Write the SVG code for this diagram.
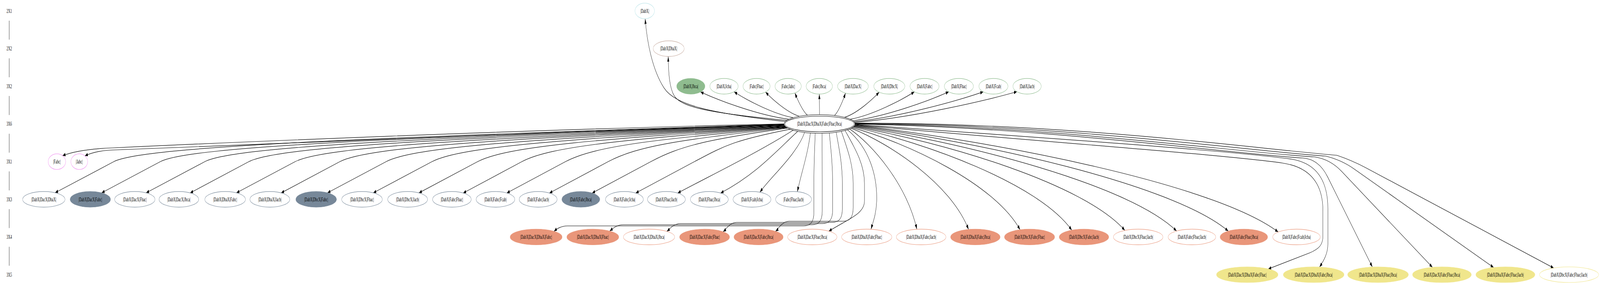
<svg xmlns="http://www.w3.org/2000/svg" width="7085" height="733" viewBox="0 0 7085 733" preserveAspectRatio="none">
<defs>
<style>
:root{width:100vw;height:100vh}
text{font-family:"Liberation Serif","Times New Roman",serif;font-size:14px;text-anchor:middle;fill:#000}
.e{fill:none;stroke:#000;stroke-width:1.2}
.a{marker-end:url(#ah)}
ellipse{stroke-width:1.1}
.c0{fill:#fff;stroke:#b0e0e6}
.c1{fill:#fff;stroke:#c4a89c}
.c2{fill:#fff;stroke:#8fbc8f}
.c2f{fill:#8fbc8f;stroke:#8fbc8f}
.c3{fill:#fff;stroke:#000}
.c3o{fill:none;stroke:#000}
.c4{fill:#fff;stroke:#ee82ee}
.c5{fill:#fff;stroke:#778899}
.c5f{fill:#778899;stroke:#778899}
.c6{fill:#fff;stroke:#e9967a}
.c6f{fill:#e9967a;stroke:#e9967a}
.c7{fill:#fff;stroke:#f0e68c}
.c7f{fill:#f0e68c;stroke:#f0e68c}
</style>
<marker id="ah" viewBox="0 0 13 9" refX="13" refY="4.5" markerWidth="13" markerHeight="9" markerUnits="userSpaceOnUse" orient="auto"><path d="M0,0 L13,4.5 L0,9 Z" fill="#000"/></marker>
</defs>
<rect width="7085" height="733" fill="#fff"/>
<g id="connectors">
<path class="e" d="M41,53 L41,101.6"/>
<path class="e" d="M41,149.6 L41,198.1"/>
<path class="e" d="M41,246.1 L41,294.7"/>
<path class="e" d="M41,342.7 L41,391.3"/>
<path class="e" d="M41,439.3 L41,487.9"/>
<path class="e" d="M41,535.9 L41,584.4"/>
<path class="e" d="M41,632.4 L41,681"/>
<path class="e a" d="M3477.4,311.5 C3150,290 2990,270 2940,225 C2890,180 2865,110 2857,48.5"/>
<path class="e a" d="M3483.4,308.7 C3200,292 3020,280 2985,245 C2965,225 2960,190 2959,145"/>
<path class="e a" d="M3493,305.7 C3356.1,295.2 3180.2,256.7 3102,235.7"/>
<path class="e a" d="M3512.3,301.6 C3420.8,291.7 3303.3,255.3 3251,235.5"/>
<path class="e a" d="M3538.9,298 C3486.8,288.7 3419.8,254.6 3390,236"/>
<path class="e a" d="M3575.3,295.1 C3556,286.6 3531.1,255.3 3520,238.2"/>
<path class="e a" d="M3629,293.7 C3629,276 3628.5,258 3628,241.1"/>
<path class="e a" d="M3695.3,295.9 C3712.3,287.3 3734.3,255.8 3744,238.6"/>
<path class="e a" d="M3740,300.7 C3793.6,291 3862.4,255.6 3893,236.2"/>
<path class="e a" d="M3765,305.7 C3864.4,295.2 3992.2,256.5 4049,235.4"/>
<path class="e a" d="M3776.5,309.5 C3925.1,298.4 4116.1,257.6 4201,235.4"/>
<path class="e a" d="M3781.3,311.9 C3981.7,300.4 4239.5,258.3 4354,235.4"/>
<path class="e a" d="M3784.1,313.9 C4035.7,302.1 4359.2,258.7 4503,235"/>
<path class="e a" d="M3472,317.7 C2400,330 900,368 500,379 C400,381 330,387 277,399"/>
<path class="e a" d="M3472,318.2 C2450,338 950,376 520,384 C450,385 410,390 376,399.5"/>
<path class="e a" d="M3472.1,318.5 C1691.2,352 634,374.3 504,414.3 L244,494"/>
<path class="e a" d="M3472.4,319.4 C1815,352.6 840,374.3 710,414.3 L450,494.3"/>
<path class="e a" d="M3472.9,320.2 C1933.4,353.1 1037,374.3 907,414.3 L647,494.3"/>
<path class="e a" d="M3473.5,321 C2050.6,353.7 1232,374.3 1102,414.3 L842,494.5"/>
<path class="e a" d="M3474.4,321.9 C2173,354.2 1437,374.3 1307,414.3 L1047,494.3"/>
<path class="e a" d="M3475.4,322.7 C2293.2,354.8 1635,374.3 1505,414.3 L1245,494.4"/>
<path class="e a" d="M3476.7,323.5 C2416.7,355.3 1840,374.3 1710,414.3 L1450,494.3"/>
<path class="e a" d="M3478.1,324.3 C2539,355.8 2043,374.3 1913,414.3 L1653,494.3"/>
<path class="e a" d="M3479.7,325.1 C2660.9,356.3 2245,374.3 2115,414.3 L1855,494.4"/>
<path class="e a" d="M3481.5,325.9 C2779.2,356.8 2441,374.3 2311,414.3 L2051,494.7"/>
<path class="e a" d="M3483.4,326.7 C2895.8,357.4 2634,374.3 2504,414.3 L2244,494.7"/>
<path class="e a" d="M3485.6,327.5 C3010,357.9 2823,374.3 2693,414.3 L2433,494.8"/>
<path class="e a" d="M3487.9,328.2 C3124.4,358.3 3012,374.3 2882,414.3 L2622,494.8"/>
<path class="e a" d="M3498.8,331.1 C3244.5,360.2 3205,374.3 3075,414.3 L2815,494.8"/>
<path class="e a" d="M3512.3,333.8 C3359,390 3157,446.8 3001,494.8"/>
<path class="e a" d="M3532.3,336.6 C3430,392 3347,446.8 3191,494.8"/>
<path class="e a" d="M3562.7,339.5 C3530,395 3410,455 3365,492.7"/>
<path class="e a" d="M3588.4,340.9 C3578,395 3545,450 3531,491.4"/>
<path class="e a" d="M3609.9,341.5 C3607,386.5 3604,420 3604,470 L3604,544 C3604,569 3589,579 3559,579 L2513,579 C2483,579 2465,586.9 2453,592.9"/>
<path class="e a" d="M3640,341.6 C3640.5,386.6 3641,420 3641,470 L3641,541 C3641,566 3626,576 3596,576 L2760,576 C2730,576 2712,586.2 2700,592.2"/>
<path class="e a" d="M3672.3,340.8 C3679.7,385.8 3687,420 3687,470 L3687,538 C3687,563 3672,573 3642,573 L3013,573 C2983,573 2965,587 2953,593"/>
<path class="e a" d="M3702.7,338.9 C3716.4,383.9 3730,420 3730,470 L3730,535 C3730,560 3715,570 3685,570 L3262,570 C3232,570 3214,588 3202,594"/>
<path class="e a" d="M3725.7,336.6 C3751.9,381.6 3778,420 3778,470 L3778,532 C3778,557 3763,567 3733,567 L3494,567 C3464,567 3446,586.9 3434,592.9"/>
<path class="e a" d="M3741.9,334.4 C3785,379.4 3828,420 3828,470 L3828,515 C3828,548 3760,560 3670,592.6"/>
<path class="e a" d="M3752.7,332.5 C3850,380 3885,450 3882,515 C3880,550 3865,570 3857,587.7"/>
<path class="e a" d="M3762.1,330.4 C3860.4,369 4015.3,471.9 4060,587.7"/>
<path class="e a" d="M3768.9,328.6 C3940.5,367.5 4211,471.4 4289,588.2"/>
<path class="e a" d="M3773.5,327.1 C4018.9,366.4 4405.5,471.1 4517,588.9"/>
<path class="e a" d="M3777.4,325.5 C4097,365.2 4600.7,471 4746,590"/>
<path class="e a" d="M3779.9,324.3 C4176.3,364.2 4800.8,470.7 4981,590.5"/>
<path class="e a" d="M3782,323.1 C4253.2,363.4 4995.8,471 5210,592.1"/>
<path class="e a" d="M3783.6,321.9 C4329.9,362.5 5190.7,470.6 5439,592.3"/>
<path class="e a" d="M3784.8,320.6 C4403.6,361.7 5378.7,471.3 5660,594.6"/>
<path class="e a" d="M3785.4,319.8 C4500,358 5400,395 5680,418 C5815,430 5858,480 5858,540 L5858,605 C5858,628 5840,638 5800,648 L5616,689.4"/>
<path class="e a" d="M3785.8,319 C4550,350 5450,386 5720,408 C5845,420 5880,475 5880,535 L5880,625 C5880,650 5862,668 5843,684.4"/>
<path class="e a" d="M3786,318.1 C4600,325 5450,394 5770,405 Q5840,408 5879,453.5 L6077,684.3"/>
<path class="e a" d="M3786,317.3 C4650,322 5500,392 5820,402 Q5890,408 5941,439.3 L6343,685.1"/>
<path class="e a" d="M3785.8,316.4 C4700,318 5550,388 5870,400 Q5940,410 5995.5,432.7 L6614,685.6"/>
<path class="e a" d="M3785.4,315.6 C4750,314 5600,384 5920,398 Q5990,412 6047.3,429.7 L6880,686.9"/>
</g>
<g id="labels">
<g id="lab_2X1"><text x="41" y="32.8">2X1</text></g>
<g id="lab_2X2"><text x="41" y="129.4">2X2</text></g>
<g id="lab_3X2"><text x="41" y="225.9">3X2</text></g>
<g id="lab_3X6"><text x="41" y="322.5">3X6</text></g>
<g id="lab_3X1"><text x="41" y="419.1">3X1</text></g>
<g id="lab_3X3"><text x="41" y="515.7">3X3</text></g>
<g id="lab_3X4"><text x="41" y="612.2">3X4</text></g>
<g id="lab_3X5"><text x="41" y="708.8">3X5</text></g>
</g>
<g id="n_r0_1"><ellipse class="c0" cx="2855" cy="28" rx="43.1" ry="20"/><text x="2855" y="32.8">|DabX|</text></g>
<g id="n_r1_1"><ellipse class="c1" cx="2961" cy="124.6" rx="68.8" ry="20"/><text x="2961" y="129.4">|DabX|DbaX|</text></g>
<g id="n_r2_1"><ellipse class="c2f" cx="3059" cy="221.1" rx="62.7" ry="20"/><text x="3059" y="225.9">|DabX|Jbca|</text></g>
<g id="n_r2_2"><ellipse class="c2" cx="3206" cy="221.1" rx="62.7" ry="20"/><text x="3206" y="225.9">|DabX|Jcba|</text></g>
<g id="n_r2_3"><ellipse class="c2" cx="3350" cy="221.1" rx="60" ry="20"/><text x="3350" y="225.9">|Fabc|Fbac|</text></g>
<g id="n_r2_4"><ellipse class="c2" cx="3490" cy="221.1" rx="58.3" ry="20"/><text x="3490" y="225.9">|Fabc|Jabc|</text></g>
<g id="n_r2_5"><ellipse class="c2" cx="3628" cy="221.1" rx="58.3" ry="20"/><text x="3628" y="225.9">|Fabc|Jbca|</text></g>
<g id="n_r2_6"><ellipse class="c2" cx="3777" cy="221.1" rx="68.2" ry="20"/><text x="3777" y="225.9">|DabX|DacX|</text></g>
<g id="n_r2_7"><ellipse class="c2" cx="3938" cy="221.1" rx="68.8" ry="20"/><text x="3938" y="225.9">|DabX|DbcX|</text></g>
<g id="n_r2_8"><ellipse class="c2" cx="4094" cy="221.1" rx="64.4" ry="20"/><text x="4094" y="225.9">|DabX|Fabc|</text></g>
<g id="n_r2_9"><ellipse class="c2" cx="4246" cy="221.1" rx="64.4" ry="20"/><text x="4246" y="225.9">|DabX|Fbac|</text></g>
<g id="n_r2_10"><ellipse class="c2" cx="4399" cy="221.1" rx="64.4" ry="20"/><text x="4399" y="225.9">|DabX|Fcab|</text></g>
<g id="n_r2_11"><ellipse class="c2" cx="4548" cy="221.1" rx="62.7" ry="20"/><text x="4548" y="225.9">|DabX|Jacb|</text></g>
<g id="n_center"><ellipse class="c3" cx="3629" cy="317.7" rx="153" ry="20"/><ellipse class="c3o" cx="3629" cy="317.7" rx="157" ry="24"/><text x="3629" y="322.5">|DabX|DacX|DbaX|Fabc|Fbac|Jbca|</text></g>
<g id="n_r4_1"><ellipse class="c4" cx="252" cy="414.3" rx="38.8" ry="20"/><text x="252" y="419.1">|Fabc|</text></g>
<g id="n_r4_2"><ellipse class="c4" cx="351" cy="414.3" rx="37.1" ry="20"/><text x="351" y="419.1">|Jabc|</text></g>
<g id="n_r5_1"><ellipse class="c5" cx="194" cy="510.9" rx="93.8" ry="20"/><text x="194" y="515.7">|DabX|DacX|DbaX|</text></g>
<g id="n_r5_2"><ellipse class="c5f" cx="400" cy="510.9" rx="89.4" ry="20"/><text x="400" y="515.7">|DabX|DacX|Fabc|</text></g>
<g id="n_r5_3"><ellipse class="c5" cx="597" cy="510.9" rx="89.4" ry="20"/><text x="597" y="515.7">|DabX|DacX|Fbac|</text></g>
<g id="n_r5_4"><ellipse class="c5" cx="792" cy="510.9" rx="87.8" ry="20"/><text x="792" y="515.7">|DabX|DacX|Jbca|</text></g>
<g id="n_r5_5"><ellipse class="c5" cx="997" cy="510.9" rx="90" ry="20"/><text x="997" y="515.7">|DabX|DbaX|Fabc|</text></g>
<g id="n_r5_6"><ellipse class="c5" cx="1195" cy="510.9" rx="88.3" ry="20"/><text x="1195" y="515.7">|DabX|DbaX|Jacb|</text></g>
<g id="n_r5_7"><ellipse class="c5f" cx="1400" cy="510.9" rx="90" ry="20"/><text x="1400" y="515.7">|DabX|DbcX|Fabc|</text></g>
<g id="n_r5_8"><ellipse class="c5" cx="1603" cy="510.9" rx="90" ry="20"/><text x="1603" y="515.7">|DabX|DbcX|Fbac|</text></g>
<g id="n_r5_9"><ellipse class="c5" cx="1805" cy="510.9" rx="88.3" ry="20"/><text x="1805" y="515.7">|DabX|DbcX|Jacb|</text></g>
<g id="n_r5_10"><ellipse class="c5" cx="2001" cy="510.9" rx="85.6" ry="20"/><text x="2001" y="515.7">|DabX|Fabc|Fbac|</text></g>
<g id="n_r5_11"><ellipse class="c5" cx="2194" cy="510.9" rx="85.6" ry="20"/><text x="2194" y="515.7">|DabX|Fabc|Fcab|</text></g>
<g id="n_r5_12"><ellipse class="c5" cx="2383" cy="510.9" rx="83.9" ry="20"/><text x="2383" y="515.7">|DabX|Fabc|Jacb|</text></g>
<g id="n_r5_13"><ellipse class="c5f" cx="2572" cy="510.9" rx="83.9" ry="20"/><text x="2572" y="515.7">|DabX|Fabc|Jbca|</text></g>
<g id="n_r5_14"><ellipse class="c5" cx="2765" cy="510.9" rx="83.9" ry="20"/><text x="2765" y="515.7">|DabX|Fabc|Jcba|</text></g>
<g id="n_r5_15"><ellipse class="c5" cx="2951" cy="510.9" rx="83.9" ry="20"/><text x="2951" y="515.7">|DabX|Fbac|Jacb|</text></g>
<g id="n_r5_16"><ellipse class="c5" cx="3141" cy="510.9" rx="83.9" ry="20"/><text x="3141" y="515.7">|DabX|Fbac|Jbca|</text></g>
<g id="n_r5_17"><ellipse class="c5" cx="3330" cy="510.9" rx="83.9" ry="20"/><text x="3330" y="515.7">|DabX|Fcab|Jcba|</text></g>
<g id="n_r5_18"><ellipse class="c5" cx="3514" cy="510.9" rx="79.6" ry="20"/><text x="3514" y="515.7">|Fabc|Fbac|Jacb|</text></g>
<g id="n_r6_1"><ellipse class="c6f" cx="2374" cy="607.4" rx="115.1" ry="20"/><text x="2374" y="612.2">|DabX|DacX|DbaX|Fabc|</text></g>
<g id="n_r6_2"><ellipse class="c6f" cx="2625" cy="607.4" rx="115.1" ry="20"/><text x="2625" y="612.2">|DabX|DacX|DbaX|Fbac|</text></g>
<g id="n_r6_3"><ellipse class="c6" cx="2874" cy="607.4" rx="113.4" ry="20"/><text x="2874" y="612.2">|DabX|DacX|DbaX|Jbca|</text></g>
<g id="n_r6_4"><ellipse class="c6f" cx="3120" cy="607.4" rx="110.7" ry="20"/><text x="3120" y="612.2">|DabX|DacX|Fabc|Fbac|</text></g>
<g id="n_r6_5"><ellipse class="c6f" cx="3359" cy="607.4" rx="109" ry="20"/><text x="3359" y="612.2">|DabX|DacX|Fabc|Jbca|</text></g>
<g id="n_r6_6"><ellipse class="c6" cx="3597" cy="607.4" rx="109" ry="20"/><text x="3597" y="612.2">|DabX|DacX|Fbac|Jbca|</text></g>
<g id="n_r6_7"><ellipse class="c6" cx="3838" cy="607.4" rx="111.2" ry="20"/><text x="3838" y="612.2">|DabX|DbaX|Fabc|Fbac|</text></g>
<g id="n_r6_8"><ellipse class="c6" cx="4079" cy="607.4" rx="109.6" ry="20"/><text x="4079" y="612.2">|DabX|DbaX|Fabc|Jacb|</text></g>
<g id="n_r6_9"><ellipse class="c6f" cx="4319" cy="607.4" rx="109.6" ry="20"/><text x="4319" y="612.2">|DabX|DbaX|Fabc|Jbca|</text></g>
<g id="n_r6_10"><ellipse class="c6f" cx="4559" cy="607.4" rx="111.2" ry="20"/><text x="4559" y="612.2">|DabX|DbcX|Fabc|Fbac|</text></g>
<g id="n_r6_11"><ellipse class="c6f" cx="4800" cy="607.4" rx="109.6" ry="20"/><text x="4800" y="612.2">|DabX|DbcX|Fabc|Jacb|</text></g>
<g id="n_r6_12"><ellipse class="c6" cx="5040" cy="607.4" rx="109.6" ry="20"/><text x="5040" y="612.2">|DabX|DbcX|Fbac|Jacb|</text></g>
<g id="n_r6_13"><ellipse class="c6" cx="5278" cy="607.4" rx="105.2" ry="20"/><text x="5278" y="612.2">|DabX|Fabc|Fbac|Jacb|</text></g>
<g id="n_r6_14"><ellipse class="c6f" cx="5508" cy="607.4" rx="105.2" ry="20"/><text x="5508" y="612.2">|DabX|Fabc|Fbac|Jbca|</text></g>
<g id="n_r6_15"><ellipse class="c6" cx="5741" cy="607.4" rx="105.2" ry="20"/><text x="5741" y="612.2">|DabX|Fabc|Fcab|Jcba|</text></g>
<g id="n_r7_1"><ellipse class="c7f" cx="5523" cy="704" rx="136.3" ry="20"/><text x="5523" y="708.8">|DabX|DacX|DbaX|Fabc|Fbac|</text></g>
<g id="n_r7_2"><ellipse class="c7f" cx="5817" cy="704" rx="134.6" ry="20"/><text x="5817" y="708.8">|DabX|DacX|DbaX|Fabc|Jbca|</text></g>
<g id="n_r7_3"><ellipse class="c7f" cx="6102" cy="704" rx="134.6" ry="20"/><text x="6102" y="708.8">|DabX|DacX|DbaX|Fbac|Jbca|</text></g>
<g id="n_r7_4"><ellipse class="c7f" cx="6385" cy="704" rx="130.2" ry="20"/><text x="6385" y="708.8">|DabX|DacX|Fabc|Fbac|Jbca|</text></g>
<g id="n_r7_5"><ellipse class="c7f" cx="6666" cy="704" rx="130.8" ry="20"/><text x="6666" y="708.8">|DabX|DbaX|Fabc|Fbac|Jacb|</text></g>
<g id="n_r7_6"><ellipse class="c7" cx="6948" cy="704" rx="130.8" ry="20"/><text x="6948" y="708.8">|DabX|DbcX|Fabc|Fbac|Jacb|</text></g>
</svg>
